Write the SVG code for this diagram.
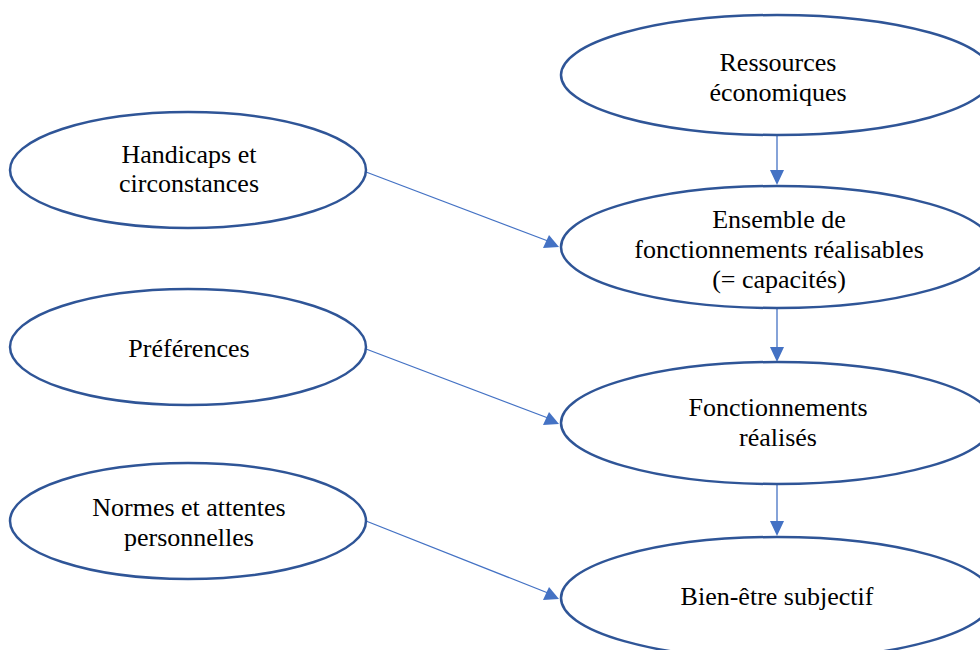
<svg xmlns="http://www.w3.org/2000/svg" width="980" height="650" viewBox="0 0 980 650">
<defs>
<style>
.n{fill:#fff;stroke:#2F5597;stroke-width:2.5}
.t{font-family:'Liberation Serif','Times New Roman',serif;font-size:26px;fill:#000;text-anchor:middle}
</style>
</defs>
<rect width="980" height="650" fill="#fff"/>
<g id="connectors" stroke="#4472C4" stroke-width="1.3">
<line x1="777" y1="136" x2="777" y2="171"/>
<path d="M770,170 L784,170 L777,185 Z" fill="#4472C4" stroke="none"/>
<line x1="777" y1="309" x2="777" y2="348"/>
<path d="M770,347 L784,347 L777,362 Z" fill="#4472C4" stroke="none"/>
<line x1="777" y1="484" x2="777" y2="522"/>
<path d="M770,521 L784,521 L777,536 Z" fill="#4472C4" stroke="none"/>
<line x1="366" y1="172" x2="548" y2="241"/>
<path d="M559,247 L543,248 L549,235 Z" fill="#4472C4" stroke="none"/>
<line x1="366" y1="349" x2="548" y2="418"/>
<path d="M559,424 L543,425 L549,412 Z" fill="#4472C4" stroke="none"/>
<line x1="366" y1="521" x2="548" y2="593"/>
<path d="M559,599 L543,600 L549,587 Z" fill="#4472C4" stroke="none"/>
</g>
<g id="ressources">
<ellipse class="n" cx="777" cy="75" rx="216" ry="60"/>
<text class="t" x="778" y="71">Ressources</text>
<text class="t" x="778" y="101">économiques</text>
</g>
<g id="ensemble">
<ellipse class="n" cx="777" cy="247" rx="216" ry="61"/>
<text class="t" x="779" y="228">Ensemble de</text>
<text class="t" x="779" y="258">fonctionnements réalisables</text>
<text class="t" x="779" y="288">(= capacités)</text>
</g>
<g id="fonctionnements">
<ellipse class="n" cx="777" cy="423" rx="216" ry="61"/>
<text class="t" x="778" y="416">Fonctionnements</text>
<text class="t" x="778" y="446">réalisés</text>
</g>
<g id="bienetre">
<ellipse class="n" cx="777" cy="598" rx="216" ry="61"/>
<text class="t" x="777" y="605">Bien-être subjectif</text>
</g>
<g id="handicaps">
<ellipse class="n" cx="188" cy="170" rx="178" ry="58"/>
<text class="t" x="189" y="163">Handicaps et</text>
<text class="t" x="189" y="192">circonstances</text>
</g>
<g id="preferences">
<ellipse class="n" cx="188" cy="347" rx="178" ry="58"/>
<text class="t" x="189" y="357">Préférences</text>
</g>
<g id="normes">
<ellipse class="n" cx="188" cy="521" rx="178" ry="58"/>
<text class="t" x="189" y="516">Normes et attentes</text>
<text class="t" x="189" y="546">personnelles</text>
</g>
</svg>
